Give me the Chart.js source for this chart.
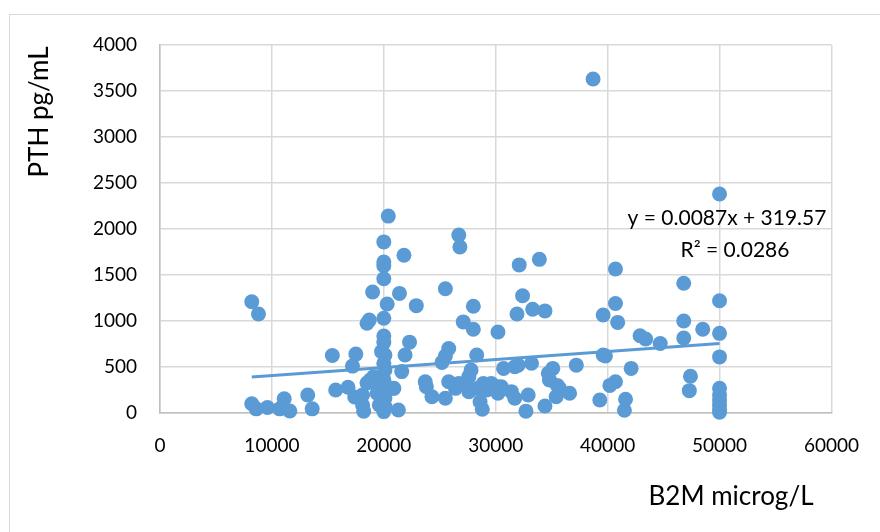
<!DOCTYPE html>
<html>
<head>
<meta charset="utf-8">
<script src="https://cdn.jsdelivr.net/npm/chart.js@4/dist/chart.umd.min.js"></script>
<style>
	html, body { margin: 0; padding: 0; background: #fff; }
	#wrap { width: 880px; height: 532px; }
</style>
</head>
<body>
<div id="wrap"><canvas id="scatterChart" width="880" height="532"></canvas></div>
<script>
// data: B2M (microg/L) vs PTH (pg/mL)
const b2m = [
	8200, 8800, 8200, 8600, 9600, 10700, 11100, 11600, 13200, 13600,
	15400, 15700, 16800, 17200, 17500, 17400, 18100, 18100, 18200,
	18500, 18700, 19000, 18500, 18800, 19100, 19600, 19600, 19400,
	20000, 20000, 20000, 20000, 20000, 20000, 20000, 19800, 20100, 20000, 20100, 20000, 20100, 20100, 20100, 20000,
	20400, 21800, 21400, 22900, 20300, 22300, 21900, 21600, 20700, 20900, 21300,
	23700, 23800, 24300, 25500, 25500, 26700, 26800, 28000, 27100, 28000, 30200,
	25800, 25500, 25200, 28300, 27800, 27600, 25800, 26400, 27700, 28400, 28900, 29200, 29600, 30200, 28600, 28800,
	26700, 27600, 30200,
	30700, 31700, 32000, 33200, 31400, 31700, 32900, 32700, 30500,
	32100, 33900, 32400, 31900, 33300, 34400,
	35100, 34700, 37200, 39600, 34800, 35700, 35400, 36600, 39300, 34400, 35500,
	38700, 50000, 40700, 46800, 50000, 40700, 39600, 40900, 46800, 48500, 50000,
	42900, 43400, 44700, 46800, 39800, 50000, 42100, 47400, 40200, 40700,
	41600, 41500, 47300, 50000, 50000, 50000, 50000, 50000, 50000
];
const pth = [
	1210, 1076, 100, 45, 60, 45, 155, 22, 195, 45,
	625, 250, 280, 510, 640, 175, 196, 87, 20,
	975, 1010, 1315, 326, 360, 395, 286, 87, 214,
	1860, 1640, 1600, 1460, 1030, 837, 765, 667, 630, 540, 467, 360, 250, 163, 70, 15,
	2140, 1715, 1300, 1167, 1185, 770, 630, 450, 268, 268, 33,
	340, 286, 177, 160, 1350, 1935, 1805, 1160, 990, 910, 880,
	700, 620, 550, 630, 467, 395, 340, 268, 250, 268, 322, 250, 322, 286, 123, 40,
	322, 232, 214,
	485, 503, 520, 540, 232, 160, 196, 20, 286,
	1610, 1670, 1275, 1076, 1127, 1110,
	485, 431, 520, 630, 360, 268, 177, 214, 141, 76, 300,
	3630, 2380, 1565, 1410, 1220, 1190, 1065, 985, 1000, 910, 866,
	840, 805, 755, 815, 620, 610, 485, 400, 300, 340,
	149, 30, 243, 268, 196, 141, 90, 40, 8
];
// trendline end points (y = 0.0087x + 319.57)
const trendX = [8200, 50000];
const trendY = [391, 755];
const equationText = 'y = 0.0087x + 319.57';
const r2Text = 'R\u00B2 = 0.0286';
const xTitle = 'B2M microg/L';
const yTitle = 'PTH pg/mL';

const blue = '#5b9bd5';
const fontFamily = 'Lato, "Noto Sans", sans-serif';

let points = b2m.map((x, i) => ({ x: x, y: pth[i] }));
let trend = trendX.map((x, i) => ({ x: x, y: trendY[i] }));

// frame, titles and equation
const extras = {
	id: 'extras',
	beforeDraw(chart) {
		const ctx = chart.ctx;
		ctx.save();
		ctx.strokeStyle = '#d9d9d9';
		ctx.lineWidth = 1;
		ctx.strokeRect(9.5, 14.5, 1000, 1000);
		ctx.restore();
	},
	afterDraw(chart) {
		const ctx = chart.ctx;
		ctx.save();
		ctx.fillStyle = '#000';
		ctx.textAlign = 'center';
		ctx.textBaseline = 'middle';

		ctx.font = '21px ' + fontFamily;
		ctx.fillText(equationText, 727, 218);
		ctx.fillText(r2Text, 735, 250);

		ctx.font = '26px ' + fontFamily;
		ctx.fillText(xTitle, 731, 497);

		ctx.translate(40, 112);
		ctx.rotate(-Math.PI / 2);
		ctx.fillText(yTitle, 0, 0);
		ctx.restore();
	}
};

new Chart(document.getElementById('scatterChart'), {
	type: 'scatter',
	data: {
		datasets: [
			{
				label: 'Linear',
				type: 'line',
				data: trend,
				borderColor: blue,
				borderWidth: 3,
				pointRadius: 0,
				fill: false,
				order: 0,
			},
			{
				label: 'PTH',
				data: points,
				backgroundColor: blue,
				borderColor: blue,
				borderWidth: 0,
				pointRadius: 7.5,
				clip: false,
				order: 1,
			}
		]
	},
	options: {
		responsive: false,
		animation: false,
		layout: {
			padding: { top: 45, right: 45, bottom: 0, left: 0 }
		},
		plugins: {
			legend: { display: false },
			tooltip: { enabled: false },
		},
		scales: {
			x: {
				type: 'linear',
				min: 0,
				max: 60000,
				afterFit: function(scale) { scale.height = 119; },
				ticks: {
					stepSize: 10000,
					padding: 21,
					color: '#000',
					font: { family: fontFamily, size: 19 },
					callback: v => String(v),
				},
				grid: { color: '#d9d9d9', lineWidth: 1.5, drawTicks: false },
				border: { color: '#bfbfbf', width: 1.5 },
			},
			y: {
				type: 'linear',
				min: 0,
				max: 4000,
				afterFit: function(scale) { scale.width = 160; },
				ticks: {
					stepSize: 500,
					padding: 23,
					color: '#000',
					font: { family: fontFamily, size: 19 },
					callback: v => String(v),
				},
				grid: { color: '#d9d9d9', lineWidth: 1.5, drawTicks: false },
				border: { color: '#bfbfbf', width: 1.5 },
			}
		}
	},
	plugins: [extras]
});
</script>
</body>
</html>
